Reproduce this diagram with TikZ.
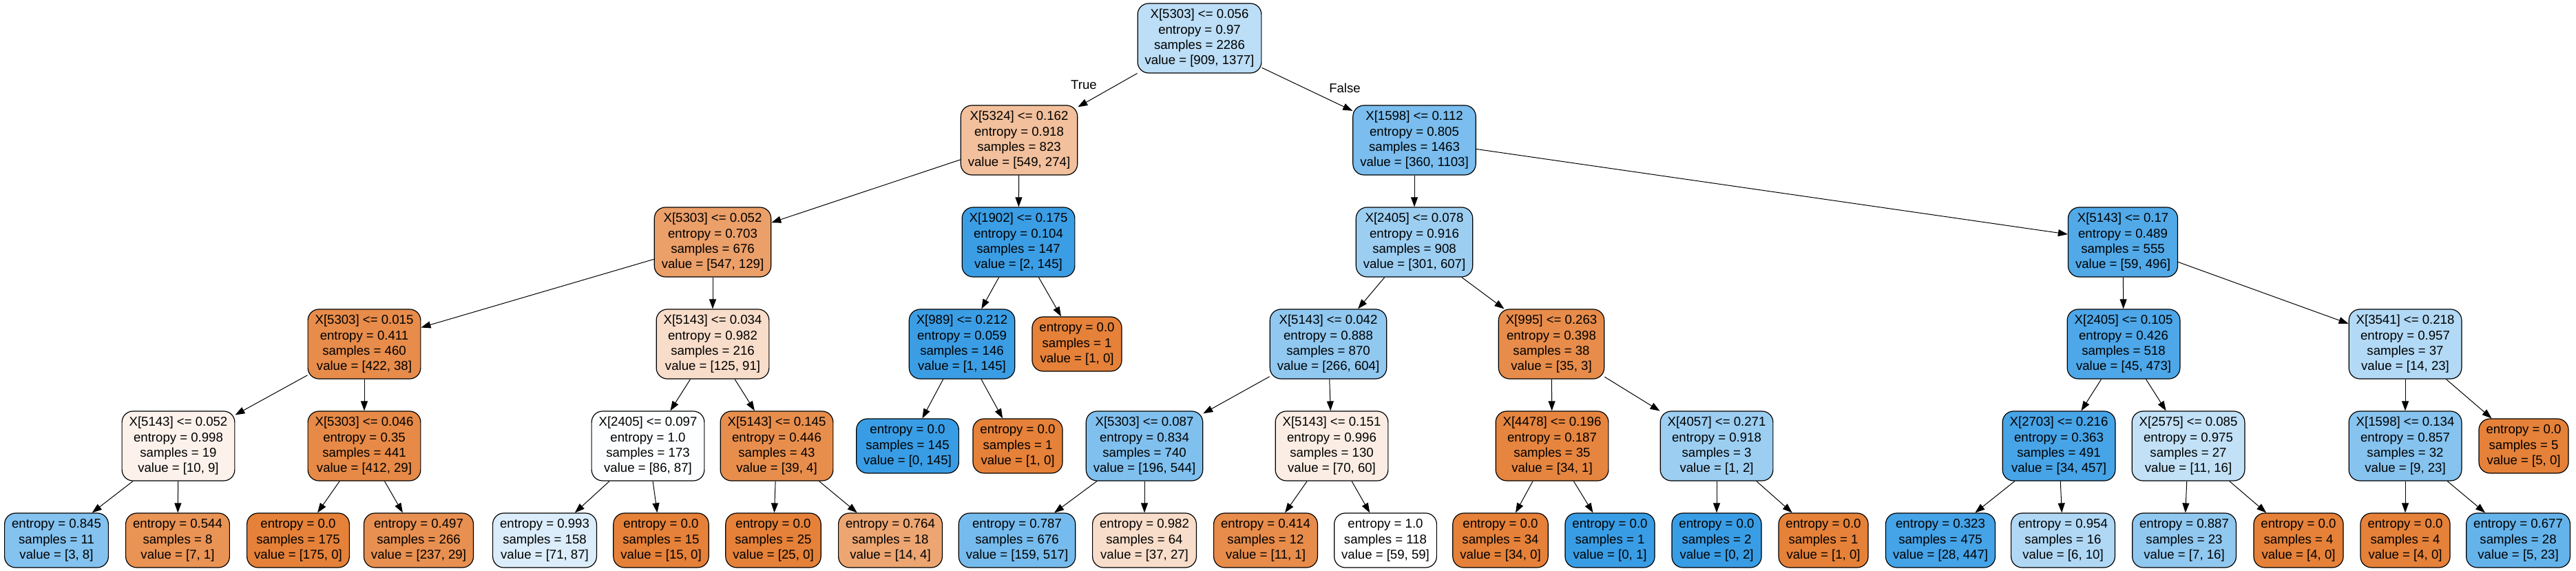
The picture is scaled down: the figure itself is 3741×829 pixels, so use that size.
\documentclass[tikz,border=0pt]{standalone}
\usepackage{fontspec}
\setmainfont{Liberation Sans}
\usetikzlibrary{arrows.meta}
\definecolor{cz}{RGB}{229,129,57}
\definecolor{co}{RGB}{57,157,229}
\begin{document}
\begin{tikzpicture}[x=1pt,y=-1pt,
  tn/.style={draw=black, line width=1.2pt, rounded corners=16pt, align=center, inner xsep=10.5pt, inner ysep=0pt, font=\fontsize{18.6}{22.3}\selectfont},
  dnode/.style={tn, minimum height=101pt},
  lnode/.style={tn, minimum height=79pt},
  conn/.style={line width=1pt, -{Triangle[length=14pt,width=10pt]}},
  elab/.style={font=\fontsize{18.6}{22.3}\selectfont, inner sep=0pt}]
\useasboundingbox (0,0) rectangle (3741,829);
% level 0
\node[dnode, fill=co!34!white] (r) at (1742,55.5) {X[5303] <= 0.056\\entropy = 0.97\\samples = 2286\\value = [909, 1377]};
% level 1
\node[dnode, fill=cz!50!white] (a) at (1480,203.5) {X[5324] <= 0.162\\entropy = 0.918\\samples = 823\\value = [549, 274]};
\node[dnode, fill=co!67!white] (b) at (2054,203.5) {X[1598] <= 0.112\\entropy = 0.805\\samples = 1463\\value = [360, 1103]};
% level 2
\node[dnode, fill=cz!76!white] (a1) at (1035,351.5) {X[5303] <= 0.052\\entropy = 0.703\\samples = 676\\value = [547, 129]};
\node[dnode, fill=co!99!white] (a2) at (1479,351.5) {X[1902] <= 0.175\\entropy = 0.104\\samples = 147\\value = [2, 145]};
\node[dnode, fill=co!50!white] (b1) at (2054,351.5) {X[2405] <= 0.078\\entropy = 0.916\\samples = 908\\value = [301, 607]};
\node[dnode, fill=co!88!white] (b2) at (3083,351.5) {X[5143] <= 0.17\\entropy = 0.489\\samples = 555\\value = [59, 496]};
% level 3
\node[dnode, fill=cz!91!white] (a1a) at (529,499.5) {X[5303] <= 0.015\\entropy = 0.411\\samples = 460\\value = [422, 38]};
\node[dnode, fill=cz!27!white] (a1b) at (1035,499.5) {X[5143] <= 0.034\\entropy = 0.982\\samples = 216\\value = [125, 91]};
\node[dnode, fill=co!99!white] (a2a) at (1397,499.5) {X[989] <= 0.212\\entropy = 0.059\\samples = 146\\value = [1, 145]};
\node[lnode, fill=cz] (a2b) at (1564,499.5) {entropy = 0.0\\samples = 1\\value = [1, 0]};
\node[dnode, fill=co!56!white] (b1a) at (1929,499.5) {X[5143] <= 0.042\\entropy = 0.888\\samples = 870\\value = [266, 604]};
\node[dnode, fill=cz!91!white] (b1b) at (2253,499.5) {X[995] <= 0.263\\entropy = 0.398\\samples = 38\\value = [35, 3]};
\node[dnode, fill=co!90!white] (b2a) at (3084,499.5) {X[2405] <= 0.105\\entropy = 0.426\\samples = 518\\value = [45, 473]};
\node[dnode, fill=co!39!white] (b2b) at (3493,499.5) {X[3541] <= 0.218\\entropy = 0.957\\samples = 37\\value = [14, 23]};
% level 4
\node[dnode, fill=cz!10!white] (n4a) at (259,647.5) {X[5143] <= 0.052\\entropy = 0.998\\samples = 19\\value = [10, 9]};
\node[dnode, fill=cz!93!white] (n4b) at (529,647.5) {X[5303] <= 0.046\\entropy = 0.35\\samples = 441\\value = [412, 29]};
\node[dnode, fill=co!1!white] (n4c) at (941,647.5) {X[2405] <= 0.097\\entropy = 1.0\\samples = 173\\value = [86, 87]};
\node[dnode, fill=cz!90!white] (n4d) at (1128,647.5) {X[5143] <= 0.145\\entropy = 0.446\\samples = 43\\value = [39, 4]};
\node[lnode, fill=co] (n4e) at (1318,647.5) {entropy = 0.0\\samples = 145\\value = [0, 145]};
\node[lnode, fill=cz] (n4f) at (1478,647.5) {entropy = 0.0\\samples = 1\\value = [1, 0]};
\node[dnode, fill=co!64!white] (n4g) at (1662,647.5) {X[5303] <= 0.087\\entropy = 0.834\\samples = 740\\value = [196, 544]};
\node[dnode, fill=cz!14!white] (n4h) at (1934,647.5) {X[5143] <= 0.151\\entropy = 0.996\\samples = 130\\value = [70, 60]};
\node[dnode, fill=cz!97!white] (n4i) at (2254,647.5) {X[4478] <= 0.196\\entropy = 0.187\\samples = 35\\value = [34, 1]};
\node[dnode, fill=co!50!white] (n4j) at (2493,647.5) {X[4057] <= 0.271\\entropy = 0.918\\samples = 3\\value = [1, 2]};
\node[dnode, fill=co!93!white] (n4k) at (2990,647.5) {X[2703] <= 0.216\\entropy = 0.363\\samples = 491\\value = [34, 457]};
\node[dnode, fill=co!31!white] (n4l) at (3178,647.5) {X[2575] <= 0.085\\entropy = 0.975\\samples = 27\\value = [11, 16]};
\node[dnode, fill=co!61!white] (n4m) at (3493,647.5) {X[1598] <= 0.134\\entropy = 0.857\\samples = 32\\value = [9, 23]};
\node[lnode, fill=cz] (n4n) at (3665,647.5) {entropy = 0.0\\samples = 5\\value = [5, 0]};
% level 5
\node[lnode, fill=co!62!white] (l1) at (82,784.5) {entropy = 0.845\\samples = 11\\value = [3, 8]};
\node[lnode, fill=cz!86!white] (l2) at (258,784.5) {entropy = 0.544\\samples = 8\\value = [7, 1]};
\node[lnode, fill=cz] (l3) at (433,784.5) {entropy = 0.0\\samples = 175\\value = [175, 0]};
\node[lnode, fill=cz!88!white] (l4) at (608,784.5) {entropy = 0.497\\samples = 266\\value = [237, 29]};
\node[lnode, fill=co!18!white] (l5) at (791,784.5) {entropy = 0.993\\samples = 158\\value = [71, 87]};
\node[lnode, fill=cz] (l6) at (960,784.5) {entropy = 0.0\\samples = 15\\value = [15, 0]};
\node[lnode, fill=cz] (l7) at (1123,784.5) {entropy = 0.0\\samples = 25\\value = [25, 0]};
\node[lnode, fill=cz!71!white] (l8) at (1293,784.5) {entropy = 0.764\\samples = 18\\value = [14, 4]};
\node[lnode, fill=co!69!white] (l9) at (1477,784.5) {entropy = 0.787\\samples = 676\\value = [159, 517]};
\node[lnode, fill=cz!27!white] (l10) at (1662,784.5) {entropy = 0.982\\samples = 64\\value = [37, 27]};
\node[lnode, fill=cz!91!white] (l11) at (1838,784.5) {entropy = 0.414\\samples = 12\\value = [11, 1]};
\node[lnode, fill=white] (l12) at (2012,784.5) {entropy = 1.0\\samples = 118\\value = [59, 59]};
\node[lnode, fill=cz] (l13) at (2179,784.5) {entropy = 0.0\\samples = 34\\value = [34, 0]};
\node[lnode, fill=co] (l14) at (2338,784.5) {entropy = 0.0\\samples = 1\\value = [0, 1]};
\node[lnode, fill=co] (l15) at (2493,784.5) {entropy = 0.0\\samples = 2\\value = [0, 2]};
\node[lnode, fill=cz] (l16) at (2648,784.5) {entropy = 0.0\\samples = 1\\value = [1, 0]};
\node[lnode, fill=co!94!white] (l17) at (2818,784.5) {entropy = 0.323\\samples = 475\\value = [28, 447]};
\node[lnode, fill=co!40!white] (l18) at (2996,784.5) {entropy = 0.954\\samples = 16\\value = [6, 10]};
\node[lnode, fill=co!56!white] (l19) at (3172,784.5) {entropy = 0.887\\samples = 23\\value = [7, 16]};
\node[lnode, fill=cz] (l20) at (3338,784.5) {entropy = 0.0\\samples = 4\\value = [4, 0]};
\node[lnode, fill=cz] (l21) at (3493,784.5) {entropy = 0.0\\samples = 4\\value = [4, 0]};
\node[lnode, fill=co!78!white] (l22) at (3657,784.5) {entropy = 0.677\\samples = 28\\value = [5, 23]};
% edge labels
\node[elab] (lt) at (1574,123) {True};
\node[elab] (lf) at (1953,128) {False};
% edges
\draw[conn] (r) -- (a);
\draw[conn] (r) -- (b);
\draw[conn] (a) -- (a1);
\draw[conn] (a) -- (a2);
\draw[conn] (b) -- (b1);
\draw[conn] (b) -- (b2);
\draw[conn] (a1) -- (a1a);
\draw[conn] (a1) -- (a1b);
\draw[conn] (a2) -- (a2a);
\draw[conn] (a2) -- (a2b);
\draw[conn] (b1) -- (b1a);
\draw[conn] (b1) -- (b1b);
\draw[conn] (b2) -- (b2a);
\draw[conn] (b2) -- (b2b);
\draw[conn] (a1a) -- (n4a);
\draw[conn] (a1a) -- (n4b);
\draw[conn] (a1b) -- (n4c);
\draw[conn] (a1b) -- (n4d);
\draw[conn] (a2a) -- (n4e);
\draw[conn] (a2a) -- (n4f);
\draw[conn] (b1a) -- (n4g);
\draw[conn] (b1a) -- (n4h);
\draw[conn] (b1b) -- (n4i);
\draw[conn] (b1b) -- (n4j);
\draw[conn] (b2a) -- (n4k);
\draw[conn] (b2a) -- (n4l);
\draw[conn] (b2b) -- (n4m);
\draw[conn] (b2b) -- (n4n);
\draw[conn] (n4a) -- (l1);
\draw[conn] (n4a) -- (l2);
\draw[conn] (n4b) -- (l3);
\draw[conn] (n4b) -- (l4);
\draw[conn] (n4c) -- (l5);
\draw[conn] (n4c) -- (l6);
\draw[conn] (n4d) -- (l7);
\draw[conn] (n4d) -- (l8);
\draw[conn] (n4g) -- (l9);
\draw[conn] (n4g) -- (l10);
\draw[conn] (n4h) -- (l11);
\draw[conn] (n4h) -- (l12);
\draw[conn] (n4i) -- (l13);
\draw[conn] (n4i) -- (l14);
\draw[conn] (n4j) -- (l15);
\draw[conn] (n4j) -- (l16);
\draw[conn] (n4k) -- (l17);
\draw[conn] (n4k) -- (l18);
\draw[conn] (n4l) -- (l19);
\draw[conn] (n4l) -- (l20);
\draw[conn] (n4m) -- (l21);
\draw[conn] (n4m) -- (l22);
\end{tikzpicture}
\end{document}
